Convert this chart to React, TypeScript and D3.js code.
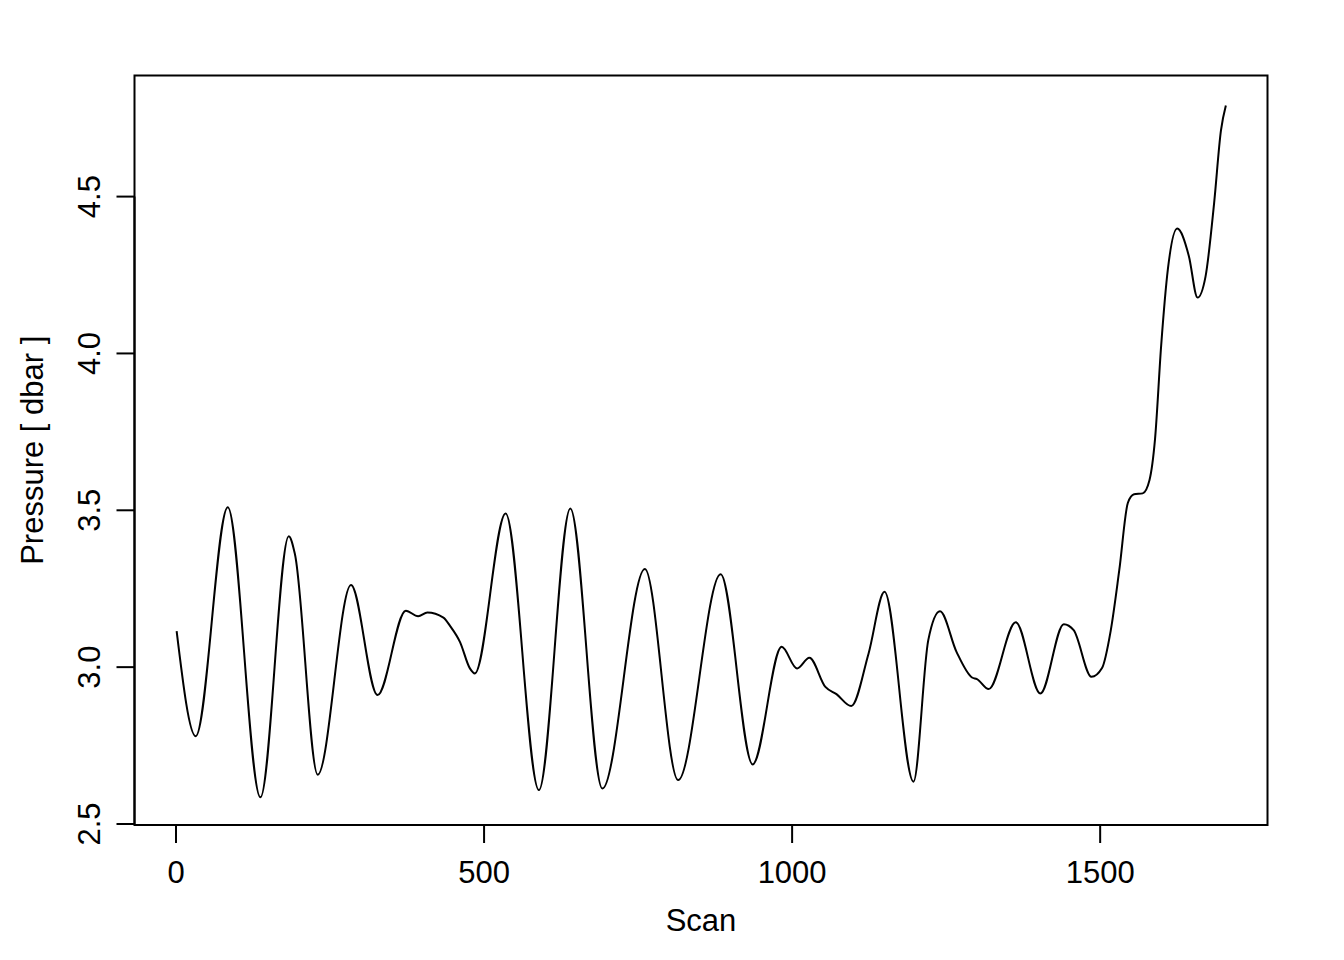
import React from "react";
import * as d3 from "d3";

// Scan number and pressure (dbar)
const scan = [
  1, 32, 84, 137, 183, 193, 230, 284, 327, 373, 393, 408, 434, 445, 461, 477, 485,
  535, 589, 640, 692, 761, 815, 884, 936, 983, 1008, 1028, 1054, 1072, 1096, 1124,
  1150, 1197, 1221, 1240, 1267, 1292, 1300, 1319, 1363, 1403, 1441, 1457, 1486,
  1503, 1517, 1531, 1545, 1555, 1569, 1580, 1589, 1599, 1610, 1625, 1644, 1658,
  1671, 1685, 1696, 1704,
];
const pressure = [
  3.115, 2.78, 3.51, 2.585, 3.417, 3.36, 2.657, 3.262, 2.911, 3.18, 3.162, 3.174, 3.158, 3.131, 3.08, 2.996, 2.98,
  3.49, 2.608, 3.506, 2.613, 3.313, 2.64, 3.296, 2.69, 3.065, 2.996, 3.03, 2.937, 2.914, 2.876, 3.043,
  3.24, 2.635, 3.086, 3.178, 3.048, 2.967, 2.962, 2.93, 3.143, 2.916, 3.137, 3.118, 2.969,
  2.997, 3.115, 3.309, 3.524, 3.551, 3.554, 3.596, 3.726, 4.025, 4.27, 4.398, 4.31, 4.178,
  4.245, 4.48, 4.71, 4.79,
];
const xTicks = [0, 500, 1000, 1500];
const yTicks = [2.5, 3.0, 3.5, 4.0, 4.5];
const xLabel = "Scan";
const yLabel = "Pressure [ dbar ]";

const W = 1344;
const H = 960;
const L = 134.5, R = 1267.5, T = 75.5, B = 825;
const FONT = "'Liberation Sans', Arial, Helvetica, sans-serif";
const FS = 31;

export default function App() {
  const x = d3.scaleLinear().domain([-67.4, 1771.6]).range([L, R]);
  const y = d3.scaleLinear().domain([2.4968, 4.886]).range([B, T]);
  const pts = scan.map((s, i) => [s, pressure[i]] as [number, number]);
  const line = d3
    .line<[number, number]>()
    .x((d) => x(d[0]))
    .y((d) => y(d[1]))
    .curve(d3.curveMonotoneX);
  const tickLen = 18;
  return (
    <svg
      width={W}
      height={H}
      style={{ position: "absolute", left: 0, top: 0, background: "#fff" }}
      fontFamily={FONT}
    >
      <rect x={0} y={0} width={W} height={H} fill="#fff" />
      <path d={line(pts) || ""} fill="none" stroke="#000" strokeWidth={2} strokeLinejoin="round" />
      <rect x={L} y={T} width={R - L} height={B - T} fill="none" stroke="#000" strokeWidth={2} />
      {/* x axis */}
      <line x1={x(xTicks[0])} x2={x(xTicks[xTicks.length - 1])} y1={B} y2={B} stroke="#000" strokeWidth={2} />
      {xTicks.map((t) => (
        <g key={"x" + t}>
          <line x1={x(t)} x2={x(t)} y1={B} y2={B + tickLen} stroke="#000" strokeWidth={2} />
          <text x={x(t)} y={883} textAnchor="middle" fontSize={FS} fill="#000">
            {t}
          </text>
        </g>
      ))}
      {/* y axis */}
      <line x1={L} x2={L} y1={y(yTicks[0])} y2={y(yTicks[yTicks.length - 1])} stroke="#000" strokeWidth={2} />
      {yTicks.map((t) => (
        <g key={"y" + t}>
          <line x1={L - tickLen} x2={L} y1={y(t)} y2={y(t)} stroke="#000" strokeWidth={2} />
          <text
            transform={`translate(100,${y(t)}) rotate(-90)`}
            textAnchor="middle"
            fontSize={FS}
            fill="#000"
          >
            {t.toFixed(1)}
          </text>
        </g>
      ))}
      <text x={(L + R) / 2} y={931} textAnchor="middle" fontSize={FS} fill="#000">
        {xLabel}
      </text>
      <text
        transform={`translate(43,${(T + B) / 2}) rotate(-90)`}
        textAnchor="middle"
        fontSize={FS}
        fill="#000"
      >
        {yLabel}
      </text>
    </svg>
  );
}
